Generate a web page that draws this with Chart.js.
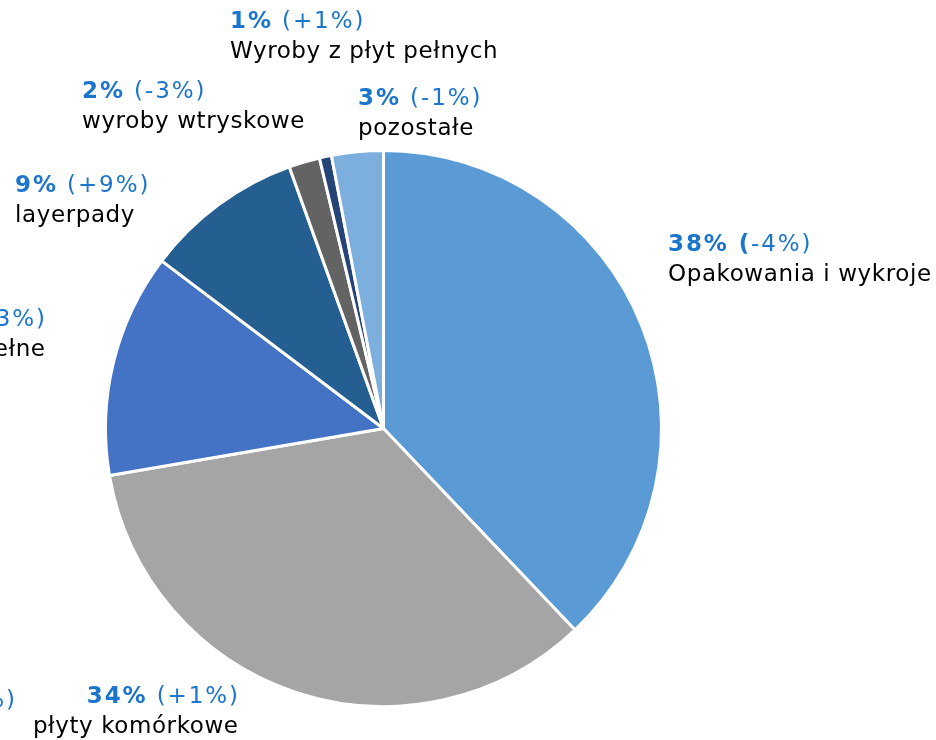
<!DOCTYPE html>
<html>
<head>
<meta charset="utf-8">
<script src="https://cdn.jsdelivr.net/npm/chart.js@4.4.1/dist/chart.umd.min.js"></script>
<style>
  html, body { margin: 0; padding: 0; background: #fff; }
  #wrap { width: 936px; height: 740px; position: relative; }
</style>
</head>
<body>
<div id="wrap"><canvas id="pie"></canvas></div>
<script>
// dane — udział w sprzedaży (%), zmiana r/r
const categories = [
  'Opakowania i wykroje',
  'płyty komórkowe',
  'płyty pełne',
  'layerpady',
  'wyroby wtryskowe',
  'Wyroby z płyt pełnych',
  'pozostałe',
];
const shares  = [37.9, 34.4, 13.0, 9.2, 1.8, 0.7, 3.0];
const changes = ['-4%', '+1%', '+3%', '+9%', '-3%', '+1%', '-1%'];
const colors  = ['#5B9BD5', '#A5A5A5', '#4472C4', '#255E91', '#636363', '#264478', '#7CAFDD'];

// etykieta ucięta przy lewej krawędzi (poza zakresem obrazu)
const strayLabels = [{ pct: '0%', change: '-1%' }];

const BLUE  = '#1B75CC';
const FONT  = '"DejaVu Sans", Verdana, sans-serif';
const FSIZE = 23;
const LINE  = 30;

// położenie etykiet: x kotwicy, y środka 1. linii, wyrównanie
const LABEL_LAYOUT = [
  { x: 668, y: 245, align: 'left',  boldParen: true },
  { x: 238, y: 697, align: 'right' },
  { x: 45,  y: 320, align: 'right' },
  { x: 15,  y: 186, align: 'left' },
  { x: 82,  y: 92,  align: 'left' },
  { x: 230, y: 22,  align: 'left' },
  { x: 358, y: 99,  align: 'left' },
];
const STRAY_LAYOUT = [{ x: 15, y: 701, align: 'right' }];

function _drawSegments(ctx, segs, x, y, align, spacing) {
  ctx.letterSpacing = spacing + 'px';
  let total = 0;
  segs.forEach(s => { ctx.font = s.font; s.w = ctx.measureText(s.text).width; total += s.w; });
  let cx = align === 'right' ? x - total + spacing : x;
  segs.forEach(s => {
    ctx.font = s.font;
    ctx.fillStyle = s.color;
    ctx.fillText(s.text, cx, y);
    cx += s.w;
  });
}

function _firstLine(pct, change, boldParen) {
  const bold = `bold ${FSIZE}px ${FONT}`;
  const reg  = `${FSIZE}px ${FONT}`;
  if (boldParen) {
    return [
      { text: pct + ' (', font: bold, color: BLUE },
      { text: change + ')', font: reg, color: BLUE },
    ];
  }
  return [
    { text: pct, font: bold, color: BLUE },
    { text: ' (' + change + ')', font: reg, color: BLUE },
  ];
}

const labelPlugin = {
  id: 'pieLabels',
  afterDatasetsDraw(chart) {
    const ctx = chart.ctx;
    const values = chart.data.datasets[0].data;
    ctx.save();
    ctx.textBaseline = 'middle';
    values.forEach((v, i) => {
      const lay = LABEL_LAYOUT[i];
      const pct = Math.round(v) + '%';
      _drawSegments(ctx, _firstLine(pct, changes[i], lay.boldParen), lay.x, lay.y, lay.align, 1.9);
      _drawSegments(ctx, [{ text: chart.data.labels[i], font: `${FSIZE}px ${FONT}`, color: '#000' }],
        lay.x, lay.y + LINE, lay.align, 0.6);
    });
    strayLabels.forEach((s, i) => {
      const lay = STRAY_LAYOUT[i];
      _drawSegments(ctx, _firstLine(s.pct, s.change, false), lay.x, lay.y, lay.align, 1.9);
    });
    ctx.restore();
  },
};

new Chart(document.getElementById('pie').getContext('2d'), {
  type: 'pie',
  data: {
    labels: categories,
    datasets: [{
      data: shares,
      backgroundColor: colors,
      borderColor: '#ffffff',
      borderWidth: 3,
    }],
  },
  options: {
    responsive: true,
    maintainAspectRatio: false,
    animation: false,
    layout: { padding: { left: 104, right: 273, top: 149, bottom: 32 } },
    plugins: {
      legend: { display: false },
      tooltip: { enabled: false },
    },
  },
  plugins: [labelPlugin],
});
</script>
</body>
</html>
